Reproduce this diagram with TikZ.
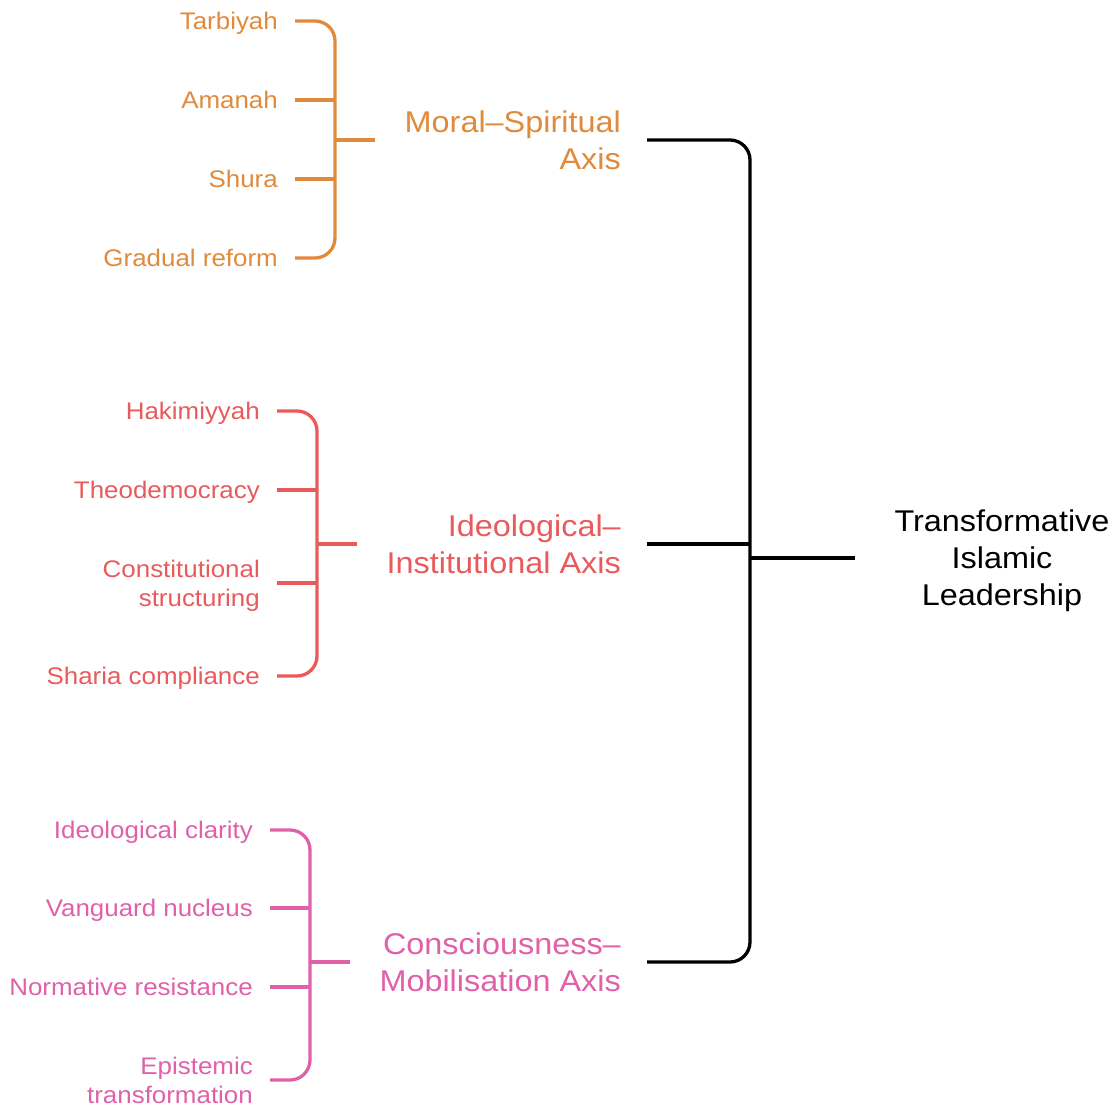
\documentclass[tikz,border=0pt]{standalone}
\usepackage{fontspec}
\setmainfont[FakeStretch=1.08]{Liberation Sans}
\definecolor{cOr}{HTML}{E08A3C}
\definecolor{cRd}{HTML}{E85A5C}
\definecolor{cPk}{HTML}{E060A9}
\begin{document}
\begin{tikzpicture}[x=1pt,y=-1pt,
  leaf/.style={anchor=east,align=right,inner xsep=17pt,inner ysep=0pt,
    font=\fontsize{24}{29}\selectfont,text height=17pt,text depth=0pt},
  leaftwo/.style={leaf,text height=46pt},
  axis/.style={anchor=east,align=right,inner xsep=26pt,inner ysep=0pt,
    font=\fontsize{30}{37}\selectfont,text height=58.5pt,text depth=0pt},
  rootn/.style={align=center,inner xsep=39pt,inner ysep=0pt,
    font=\fontsize{30}{37}\selectfont,text height=95.5pt,text depth=0pt},
  br/.style={line width=3.3pt,rounded corners=20pt}]
\useasboundingbox (0,0) rectangle (1114,1105);
% root
\node[rootn] (root) at (1002,558) {Transformative\\Islamic\\Leadership};
% axes
\node[axis,text=cOr] (ms) at (647,140) {Moral–Spiritual\\Axis};
\node[axis,text=cRd] (ii) at (647,544) {Ideological–\\Institutional Axis};
\node[axis,text=cPk] (cm) at (647,962) {Consciousness–\\Mobilisation Axis};
% spine
\coordinate (sTop) at (750,140);
\coordinate (sBot) at (750,962);
\coordinate (sMid) at (750,544);
\coordinate (sRoot) at (750,558);
\draw[br] (ms.east) -- (sTop) -- (sBot) -- (cm.east);
\draw[br] (ii.east) -- (sMid);
\draw[br] (sRoot) -- (root.west);
% orange group
\node[leaf,text=cOr] (o1) at (295,21) {Tarbiyah};
\node[leaf,text=cOr] (o2) at (295,100) {Amanah};
\node[leaf,text=cOr] (o3) at (295,179) {Shura};
\node[leaf,text=cOr] (o4) at (295,258) {Gradual reform};
\coordinate (oT) at (335,21);
\coordinate (oB) at (335,258);
\coordinate (oM) at (335,140);
\coordinate (oS) at (375,140);
\draw[br,cOr] (o1.east) -- (oT) -- (oB) -- (o4.east);
\draw[br,cOr] (o2.east) -- (o2.east -| oT);
\draw[br,cOr] (o3.east) -- (o3.east -| oT);
\draw[br,cOr] (oM) -- (oS);
% red group
\node[leaf,text=cRd] (r1) at (277,411) {Hakimiyyah};
\node[leaf,text=cRd] (r2) at (277,490) {Theodemocracy};
\node[leaftwo,text=cRd] (r3) at (277,583) {Constitutional\\structuring};
\node[leaf,text=cRd] (r4) at (277,676) {Sharia compliance};
\coordinate (rT) at (317,411);
\coordinate (rB) at (317,676);
\coordinate (rM) at (317,544);
\coordinate (rS) at (357,544);
\draw[br,cRd] (r1.east) -- (rT) -- (rB) -- (r4.east);
\draw[br,cRd] (r2.east) -- (r2.east -| rT);
\draw[br,cRd] (r3.east) -- (r3.east -| rT);
\draw[br,cRd] (rM) -- (rS);
% pink group
\node[leaf,text=cPk] (p1) at (270,830) {Ideological clarity};
\node[leaf,text=cPk] (p2) at (270,908) {Vanguard nucleus};
\node[leaf,text=cPk] (p3) at (270,987) {Normative resistance};
\node[leaftwo,text=cPk] (p4) at (270,1080) {Epistemic\\transformation};
\coordinate (pT) at (310,830);
\coordinate (pB) at (310,1080);
\coordinate (pM) at (310,962);
\coordinate (pS) at (350,962);
\draw[br,cPk] (p1.east) -- (pT) -- (pB) -- (p4.east);
\draw[br,cPk] (p2.east) -- (p2.east -| pT);
\draw[br,cPk] (p3.east) -- (p3.east -| pT);
\draw[br,cPk] (pM) -- (pS);
\end{tikzpicture}
\end{document}
